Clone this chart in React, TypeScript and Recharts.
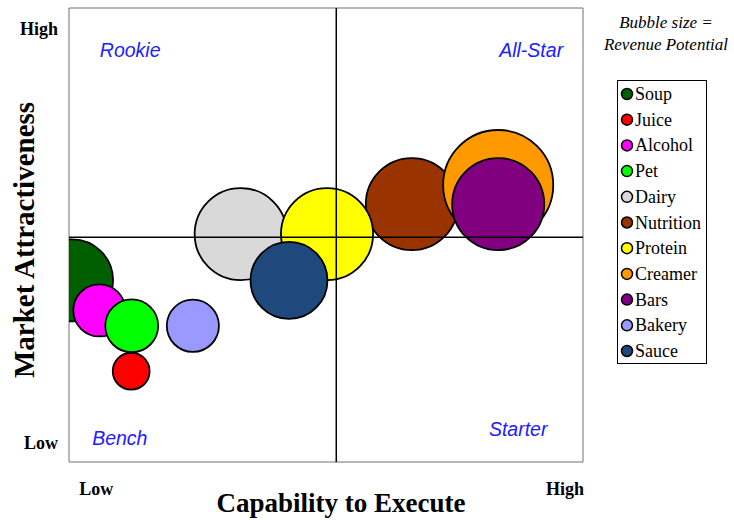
import React from 'react';
import { ScatterChart, Scatter, XAxis, YAxis, ZAxis, ReferenceLine, ReferenceArea, ReferenceDot, Label } from 'recharts';

// categories, in legend / drawing order
const names = ['Soup', 'Juice', 'Alcohol', 'Pet', 'Dairy', 'Nutrition', 'Protein', 'Creamer', 'Bars', 'Bakery', 'Sauce'];
const colors = ['#006000', '#ff0000', '#ff00ff', '#00ff00', '#d9d9d9', '#993300', '#ffff00', '#ff9900', '#800080', '#9999ff', '#1f497d'];
// capability to execute (x), market attractiveness (y), revenue potential (bubble size)
const capability = [0.06, 1.21, 0.59, 1.22, 3.34, 6.67, 5.02, 8.35, 8.35, 2.41, 4.28];
const attractiveness = [4.0, 2.0, 3.34, 3.0, 5.02, 5.68, 5.02, 6.1, 5.68, 3.0, 4.0];
const revenue = [16.8, 3.4, 6.8, 7.0, 21.2, 21.2, 21.2, 30.3, 21.2, 6.8, 14.8];

// quadrant dividers
const xSplit = 5.2;
const ySplit = 4.95;

// axis end labels
const tickLabels = ['Low', 'High'];
const xTicks = [0.53, 9.65];
const yTicks = [0.42, 9.54];

// quadrant names
const quadrants = ['Rookie', 'All-Star', 'Bench', 'Starter'];
const quadrantX = [0.6, 8.37, 0.45, 8.17];
const quadrantY = [8.92, 8.92, 0.37, 0.57];

const serif = '"Liberation Serif", "Times New Roman", serif';
const sans = '"Liberation Sans", Arial, sans-serif';

const series = names.map((name, i) => ({
  name,
  color: colors[i],
  data: [{ x: capability[i], y: attractiveness[i], z: revenue[i] }],
}));

const tickText = (ticks: number[]) => (v: number) => tickLabels[ticks.indexOf(v)] ?? '';

const Legend = () => (
  <svg width={734} height={520} style={{ position: 'absolute', left: 0, top: 0, pointerEvents: 'none' }}>
    <text x={666} y={28} textAnchor="middle" fontFamily={serif} fontStyle="italic" fontSize={17}>Bubble size =</text>
    <text x={666} y={50} textAnchor="middle" fontFamily={serif} fontStyle="italic" fontSize={17}>Revenue Potential</text>
    <rect x={617.5} y={80.5} width={89} height={283} fill="#fff" stroke="#000" strokeWidth={1} />
    {series.map((s, i) => (
      <g key={s.name}>
        <circle cx={627} cy={94 + i * 25.7} r={5.5} fill={s.color} stroke="#000" strokeWidth={1.5} />
        <text x={635} y={94 + i * 25.7 + 6} fontFamily={serif} fontSize={18}>{s.name}</text>
      </g>
    ))}
  </svg>
);

export default function App() {
  return (
    <div style={{ position: 'absolute', left: 0, top: 0, width: 734, height: 520, background: '#fff' }}>
      <ScatterChart width={734} height={520} margin={{ top: 8, right: 151, bottom: 0, left: 0 }}>
        <XAxis
          type="number"
          dataKey="x"
          domain={[0, 10]}
          allowDataOverflow
          ticks={xTicks}
          tickFormatter={tickText(xTicks)}
          tickLine={false}
          axisLine={false}
          tickMargin={14}
          height={58}
          tick={{ fill: '#000', fontFamily: serif, fontWeight: 'bold', fontSize: 18 }}
        >
          <Label
            content={({ viewBox }: any) => (
              <text x={viewBox.x + viewBox.width / 2 + 15} y={viewBox.y + 50} textAnchor="middle" fontFamily={serif} fontWeight="bold" fontSize={27} fill="#000">
                Capability to Execute
              </text>
            )}
          />
        </XAxis>
        <YAxis
          type="number"
          dataKey="y"
          domain={[0, 10]}
          allowDataOverflow
          ticks={yTicks}
          tickFormatter={tickText(yTicks)}
          tickLine={false}
          axisLine={false}
          tickMargin={5}
          width={69}
          tick={{ fill: '#000', fontFamily: serif, fontWeight: 'bold', fontSize: 18 }}
        >
          <Label
            content={({ viewBox }: any) => {
              const cx = 34;
              const cy = viewBox.y + viewBox.height / 2 + 5;
              return (
                <text x={cx} y={cy} transform={`rotate(-90, ${cx}, ${cy})`} textAnchor="middle" fontFamily={serif} fontWeight="bold" fontSize={29} fill="#000">
                  Market Attractiveness
                </text>
              );
            }}
          />
        </YAxis>
        <ZAxis type="number" dataKey="z" domain={[0, 40]} range={[0, 4000 * Math.PI]} />
        <ReferenceArea x1={0} x2={10} y1={0} y2={10} fill="none" stroke="#707070" strokeWidth={1} />
        {series.map((s) => (
          <Scatter
            key={s.name}
            name={s.name}
            data={s.data}
            fill={s.color}
            stroke="#000"
            strokeWidth={1.8}
            isAnimationActive={false}
          />
        ))}
        <ReferenceLine x={xSplit} stroke="#000" strokeWidth={1.5} zIndex={700} />
        <ReferenceLine y={ySplit} stroke="#000" strokeWidth={1.5} zIndex={700} />
        {quadrants.map((q, i) => (
          <ReferenceDot
            key={q}
            x={quadrantX[i]}
            y={quadrantY[i]}
            r={0}
            fill="none"
            stroke="none"
            label={{
              content: ({ viewBox }: any) => (
                <text x={viewBox.x} y={viewBox.y} fontFamily={sans} fontStyle="italic" fontSize={19.5} fill="#2020ff">
                  {q}
                </text>
              ),
            }}
          />
        ))}
      </ScatterChart>
      <Legend />
    </div>
  );
}
